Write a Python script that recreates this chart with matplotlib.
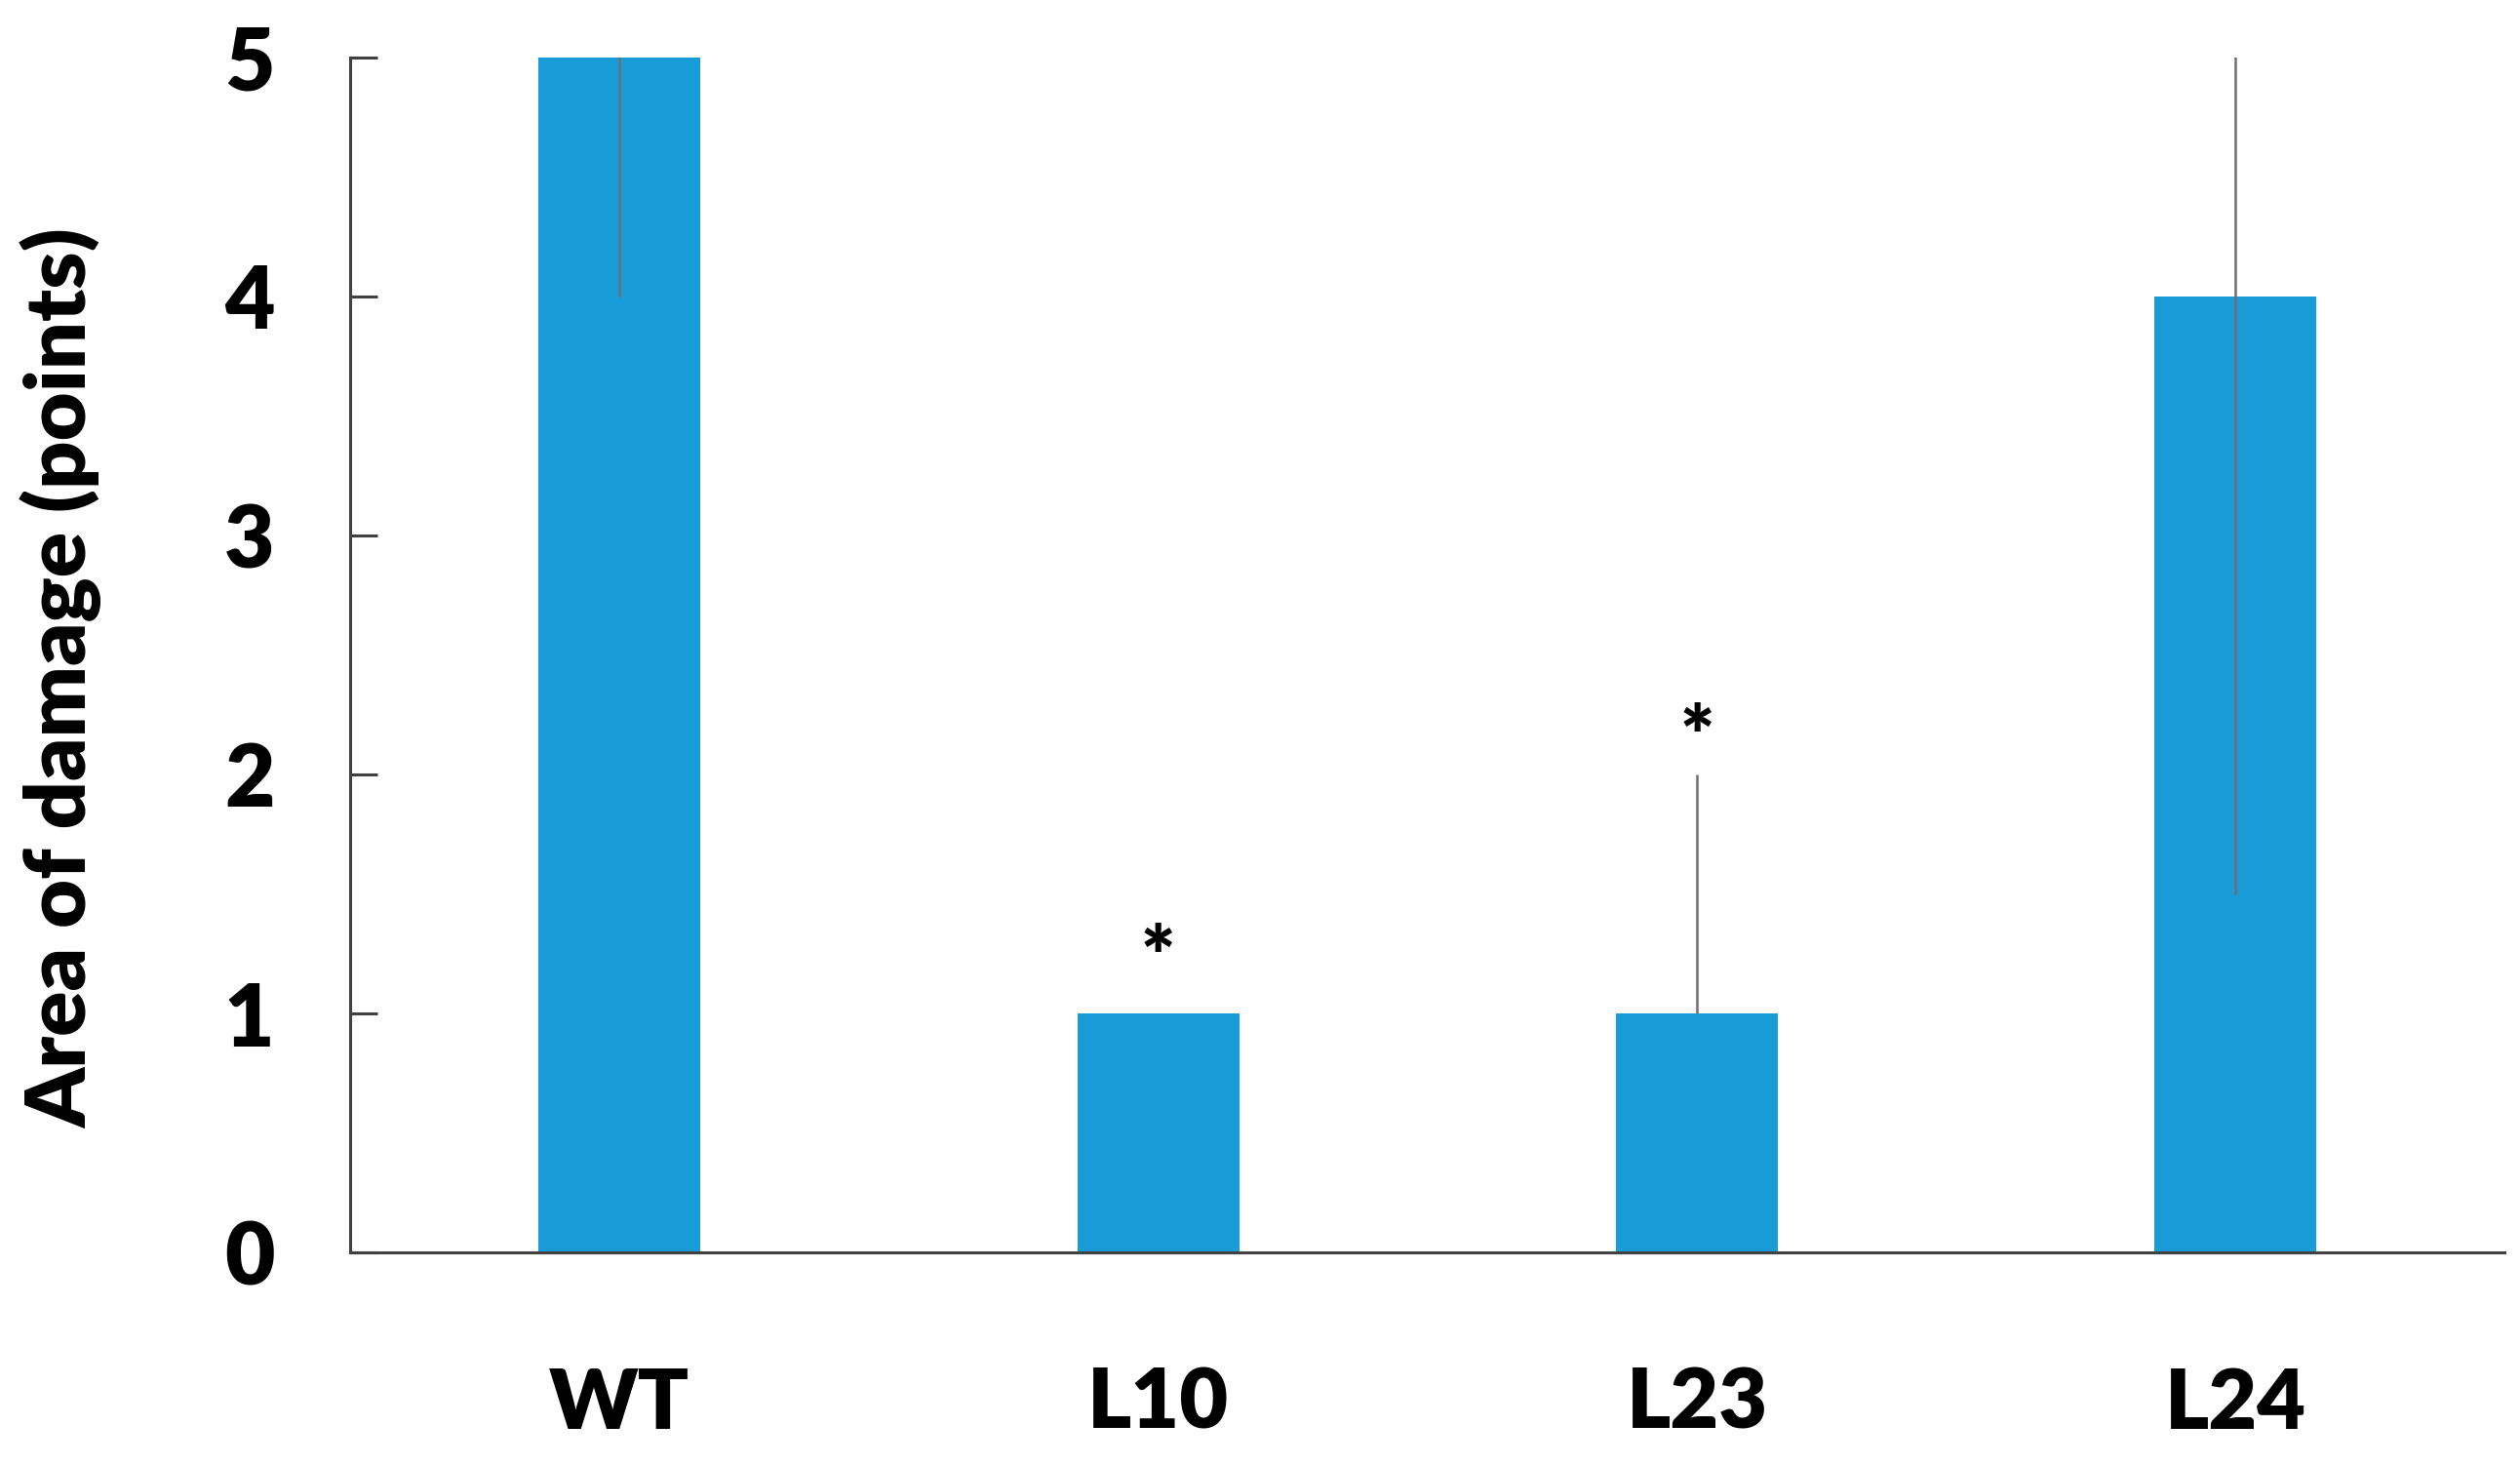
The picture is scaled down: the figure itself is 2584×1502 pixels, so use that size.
import matplotlib
matplotlib.use("Agg")
import matplotlib.pyplot as plt
import numpy as np

plt.rcParams['font.family'] = ['Lato', 'DejaVu Sans']

categories = ["WT", "L10", "L23", "L24"]
values = [5, 1, 1, 4]
err_lower = [1, 0, 0, 2.5]
err_upper = [1, 0, 1, 2.5]
stars = ["", "*", "*", ""]
star_y = [None, 1.22, 2.14, None]
yticks = [0, 1, 2, 3, 4, 5]

fig = plt.figure(figsize=(12.92, 7.51), dpi=200)
ax = fig.add_axes([0.139, 0.145, 0.855, 0.816])

x = np.arange(len(categories))
ax.bar(x, values, width=0.30, color='#189bd7', zorder=2)
ax.errorbar(x, values, yerr=[err_lower, err_upper], fmt='none',
            ecolor='#6e6e6e', elinewidth=0.9, capsize=0, zorder=3)

for xi, s, sy in zip(x, stars, star_y):
    if s:
        ax.text(xi, sy, s, ha='center', va='center', fontsize=30,
                fontweight='heavy', color='black')

ax.set_xlim(-0.5, 3.5)
ax.set_ylim(0, 5)
ax.set_yticks(yticks)
ax.set_xticks(x)
ax.set_xticklabels(categories)

for side in ['top', 'right']:
    ax.spines[side].set_visible(False)
for side in ['left', 'bottom']:
    ax.spines[side].set_color('#404040')
    ax.spines[side].set_linewidth(1.1)

ax.tick_params(axis='y', direction='in', length=10, width=1.1, color='#404040',
               pad=28, labelsize=32)
ax.tick_params(axis='x', length=0, pad=42, labelsize=31)
for lab in ax.get_xticklabels() + ax.get_yticklabels():
    lab.set_fontweight('heavy')

ax.set_ylabel("Area of damage (points)", fontsize=31, fontweight='heavy')
ax.yaxis.set_label_coords(-0.115, 0.48)

fig.savefig("out.png", dpi=200)
